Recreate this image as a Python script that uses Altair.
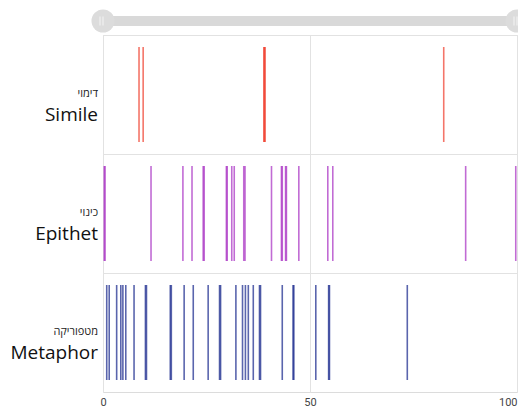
import altair as alt
import pandas as pd

categories = ["Simile", "Epithet", "Metaphor"]
hebrew = ["דימוי", "כינוי", "מטפוריקה"]
colors = ["#f03a2a", "#a62cc2", "#14238a"]
x_ticks = [0, 50, 100]

simile = [8.7, 9.7, 38.85, 39.0, 39.15, 82.3]
epithet = [0.3, 0.5, 11.6, 19.3, 21.5, 24.2, 24.45, 29.8, 30.0, 31.1, 31.7,
           34.0, 34.3, 40.7, 43.1, 43.3, 44.1, 44.3, 47.3, 54.3, 55.5, 87.6, 99.7]
metaphor = [0.9, 1.5, 3.3, 4.3, 4.8, 5.5, 7.5, 10.25, 10.5, 16.25, 16.5, 19.6,
            21.8, 25.4, 28.15, 28.4, 32.1, 33.7, 34.4, 35.1, 36.3, 37.8, 38.05,
            43.3, 45.9, 46.1, 51.4, 54.5, 54.7, 73.5]

rows = []
for cat, vals in zip(categories, [simile, epithet, metaphor]):
    for v in vals:
        rows.append({"cat": cat, "pos": v})
df = pd.DataFrame(rows)
labels = pd.DataFrame({"cat": categories, "heb": hebrew})
slider_bar = pd.DataFrame({"start": [0], "end": [100]})
slider_handles = pd.DataFrame({"pos": [0, 100]})

W, H = 414, 357

xscale = alt.Scale(domain=[0, 100], nice=False)
yscale = alt.Scale(domain=categories, paddingInner=0, paddingOuter=0)

ticks = alt.Chart(df).mark_tick(size=95, thickness=1.6, opacity=0.7).encode(
    x=alt.X("pos:Q", scale=xscale,
            axis=alt.Axis(values=x_ticks, grid=True, gridColor="#e2e2e2",
                          domain=False, ticks=False, labelFontSize=11,
                          labelColor="#444", labelPadding=4, title=None,
                          labelFont="Roboto",
                          labelAlign={"condition": {"test": "datum.value >= 100",
                                                    "value": "right"},
                                      "value": "center"})),
    y=alt.Y("cat:N", scale=yscale,
            axis=alt.Axis(labels=False, ticks=False, domain=False, title=None,
                          grid=True, bandPosition=0, gridColor="#e2e2e2")),
    color=alt.Color("cat:N", scale=alt.Scale(domain=categories, range=colors),
                    legend=None),
)

eng = alt.Chart(labels).mark_text(align="right", baseline="middle", dx=-5,
                                  dy=20, fontSize=19, font="Open Sans",
                                  color="#111").encode(
    x=alt.value(0), y=alt.Y("cat:N", scale=yscale), text="cat:N")

heb = alt.Chart(labels).mark_text(align="right", baseline="middle", dx=-5,
                                  dy=-1, fontSize=11, font="Open Sans",
                                  color="#222").encode(
    x=alt.value(0), y=alt.Y("cat:N", scale=yscale), text="heb:N")

bar = alt.Chart(slider_bar).mark_rule(strokeWidth=10, color="#d9d9d9").encode(
    x=alt.X("start:Q", scale=xscale), x2="end:Q", y=alt.value(-14))

handles = alt.Chart(slider_handles).mark_circle(size=530, color="#dcdcdc",
                                                opacity=1).encode(
    x=alt.X("pos:Q", scale=xscale), y=alt.value(-14))

grip_a = alt.Chart(slider_handles).mark_tick(size=9, thickness=1,
                                             color="#f4f4f4", opacity=1,
                                             xOffset=-3).encode(
    x=alt.X("pos:Q", scale=xscale), y=alt.value(-14))

grip_b = alt.Chart(slider_handles).mark_tick(size=9, thickness=1,
                                             color="#f4f4f4", opacity=1,
                                             xOffset=0).encode(
    x=alt.X("pos:Q", scale=xscale), y=alt.value(-14))

chart = alt.layer(ticks, eng, heb, bar, handles, grip_a, grip_b).properties(
    width=W, height=H,
    autosize=alt.AutoSizeParams(type="none"),
    padding={"left": 95, "top": 27, "right": 1, "bottom": 17},
).configure_view(stroke="#dcdcdc", strokeWidth=1)

chart.save("out.html", embed_options={"renderer": "svg", "actions": False})
